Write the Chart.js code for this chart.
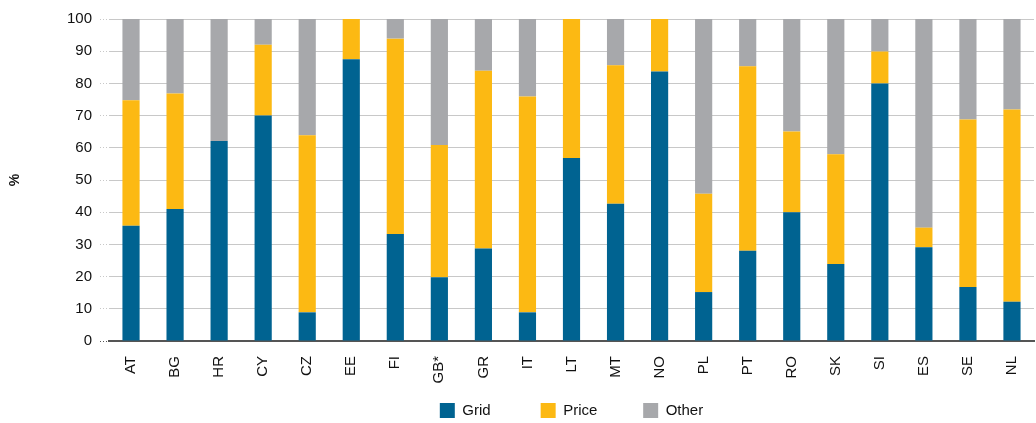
<!DOCTYPE html>
<html>
<head>
<meta charset="utf-8">
<script src="https://cdn.jsdelivr.net/npm/chart.js@4/dist/chart.umd.min.js"></script>
<style>
  html, body { margin: 0; padding: 0; background: #fff; }
  #wrap { width: 1036px; height: 423px; }
</style>
</head>
<body>
<div id="wrap"><canvas id="chart" width="1036" height="423"></canvas></div>
<script>
// Share of each driver, by country (%)
const countries = ['AT', 'BG', 'HR', 'CY', 'CZ', 'EE', 'FI', 'GB*', 'GR', 'IT', 'LT',
    'MT', 'NO', 'PL', 'PT', 'RO', 'SK', 'SI', 'ES', 'SE', 'NL'];
const grid  = [35.8, 41.0, 62.1, 70.0, 8.9, 87.5, 33.2, 19.8, 28.7, 8.9, 56.8,
    42.6, 83.7, 15.2, 28.0, 40.0, 23.9, 80.0, 29.1, 16.8, 12.2];
const price = [39.0, 35.9, 0, 22.0, 55.0, 12.5, 60.7, 41.1, 55.2, 67.0, 43.2,
    43.0, 16.3, 30.5, 57.3, 25.1, 34.1, 9.9, 6.1, 52.0, 59.7];
const other = [25.2, 23.1, 37.9, 8.0, 36.1, 0, 6.1, 39.1, 16.1, 24.1, 0,
    14.4, 0, 54.3, 14.7, 34.9, 42.0, 10.1, 64.8, 31.2, 28.1];
const yTicks = [0, 10, 20, 30, 40, 50, 60, 70, 80, 90, 100];

const FONT = "'Liberation Sans', Arial, sans-serif";
// gap after each legend entry (the last one gets none, so the row stays centred)
const legendGap = ['\u00A0'.repeat(12), '\u00A0'.repeat(11), ''];

new Chart(document.getElementById('chart'), {
    type: 'bar',
    data: {
        labels: countries,
        datasets: [
            { label: 'Grid', data: grid, backgroundColor: '#006391' },
            { label: 'Price', data: price, backgroundColor: '#FCB913' },
            { label: 'Other', data: other, backgroundColor: '#A7A8AB' }
        ]
    },
    options: {
        responsive: false,
        animation: false,
        layout: { padding: { top: 19, right: 2, bottom: 0, left: 0 } },
        datasets: {
            bar: { categoryPercentage: 1, barPercentage: 0.39 }
        },
        plugins: {
            tooltip: { enabled: false },
            legend: {
                position: 'bottom',
                fullSize: false,
                maxHeight: 20,
                labels: {
                    color: '#111',
                    font: { family: FONT, size: 15 },
                    boxWidth: 15,
                    boxHeight: 15,
                    padding: 0,
                    generateLabels: (chart) => {
                        const items = Chart.defaults.plugins.legend.labels.generateLabels(chart);
                        items.forEach((it, i) => { it.text = it.text + legendGap[i]; it.lineWidth = 0; });
                        return items;
                    }
                }
            }
        },
        scales: {
            x: {
                stacked: true,
                afterFit: (scale) => {
                    scale.height = 62;
                    scale.paddingLeft = 0;
                    scale.paddingRight = 0;
                },
                grid: { display: false },
                border: { display: true, color: '#555', width: 2 },
                ticks: {
                    color: '#111',
                    font: { family: FONT, size: 15 },
                    minRotation: 90,
                    maxRotation: 90,
                    padding: 7,
                    autoSkip: false
                }
            },
            y: {
                stacked: true,
                min: 0,
                max: 100,
                afterFit: (scale) => {
                    scale.width = 109;
                    scale.paddingTop = 0;
                    scale.paddingBottom = 0;
                },
                afterBuildTicks: (scale) => { scale.ticks = yTicks.map(v => ({ value: v })); },
                border: { display: false },
                grid: {
                    color: (ctx) => (ctx.tick && ctx.tick.value === 0) ? '#555' : '#c8c8c8',
                    borderDash: [1, 2],
                    tickBorderDash: [1, 2],
                    tickLength: 9,
                    lineWidth: 1
                },
                ticks: {
                    color: '#111',
                    font: { family: FONT, size: 15 },
                    padding: 8
                },
                title: {
                    display: true,
                    text: '%',
                    color: '#111',
                    font: { family: FONT, size: 14, weight: 'bold' },
                    padding: { top: 7, bottom: 0 }
                }
            }
        }
    }
});
</script>
</body>
</html>
